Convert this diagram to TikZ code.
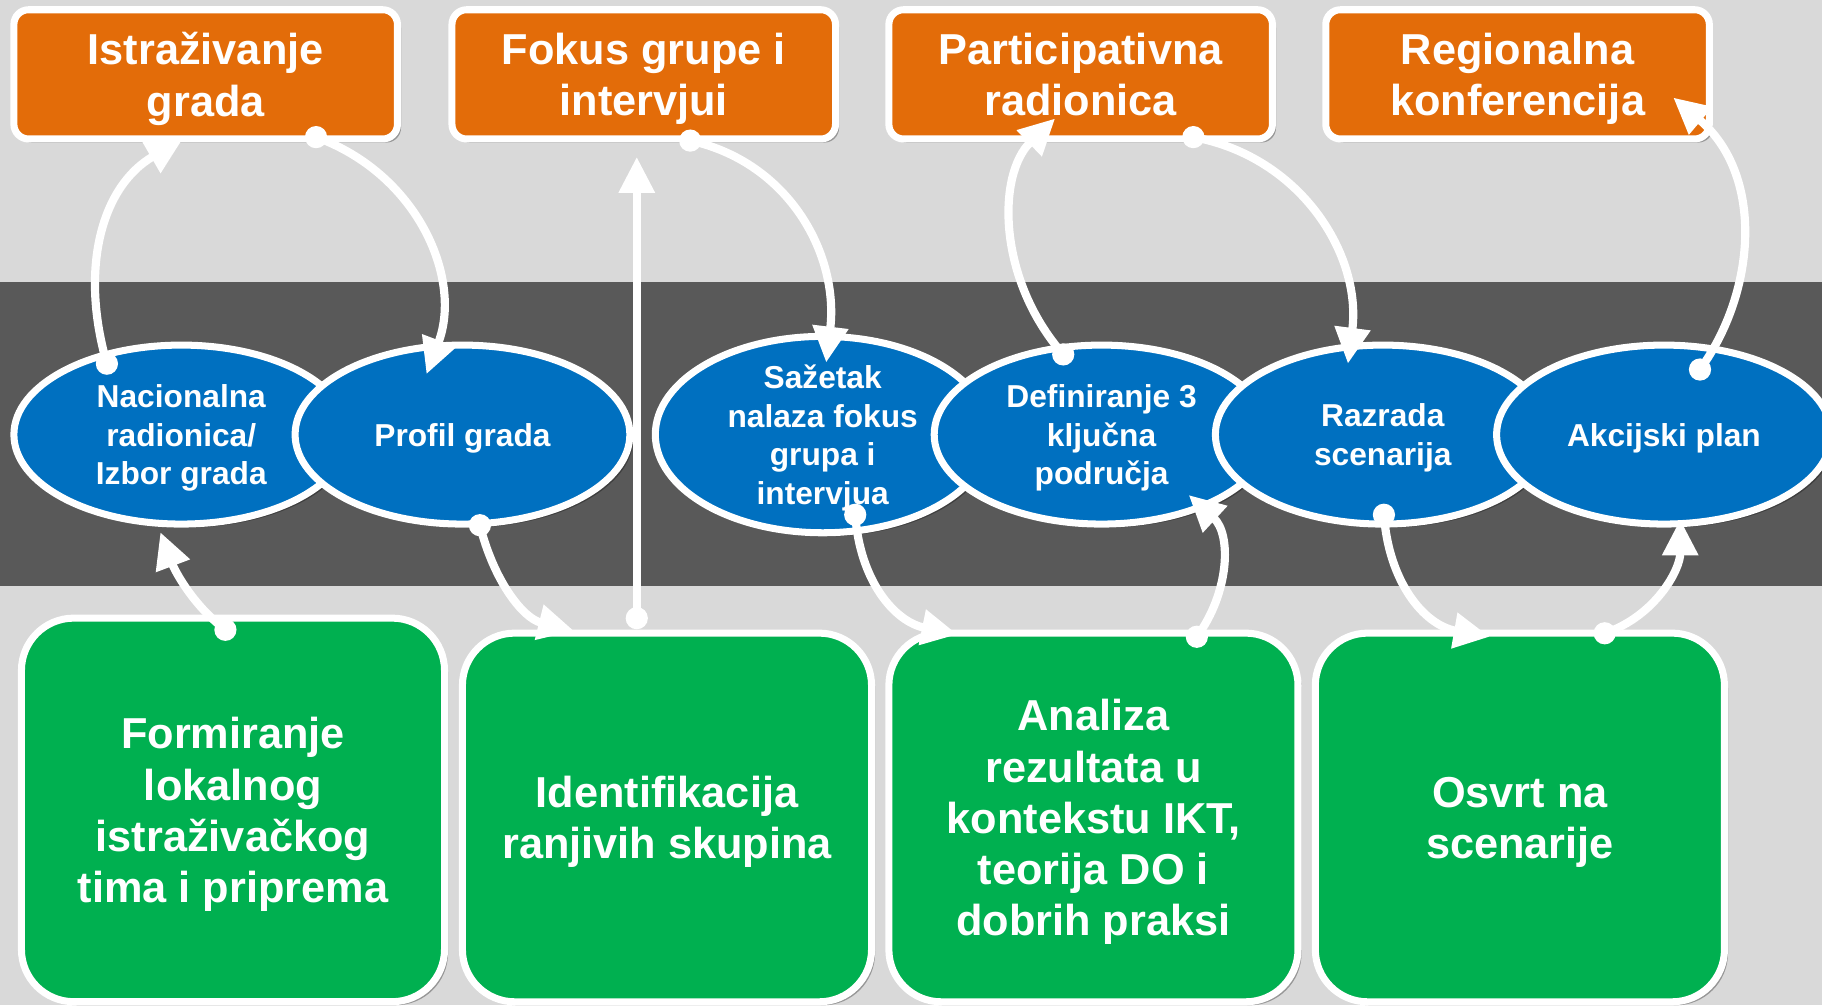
\documentclass[tikz,border=0pt]{standalone}
\usepackage{fontspec}
\setmainfont{Liberation Sans}
\usetikzlibrary{shapes.geometric,arrows.meta,shadows}
\definecolor{bglight}{HTML}{D9D9D9}
\definecolor{bandgray}{HTML}{595959}
\definecolor{org}{HTML}{E36C09}
\definecolor{blu}{HTML}{0070C0}
\definecolor{grn}{HTML}{00B050}
\begin{document}
\begin{tikzpicture}[x=0.025cm,y=-0.025cm,
  shadowed/.style={drop shadow={shadow xshift=2.2pt,shadow yshift=-2.2pt,opacity=0.3,fill=black}},
  topbox/.style={rectangle, rounded corners=9pt, fill=org, draw=white, line width=4.3pt,
    minimum width=8.25cm, minimum height=2.78cm, text=white, text depth=0pt,
    font=\bfseries\fontsize{26.5pt}{31.3pt}\selectfont, align=center, inner sep=0pt, shadowed},
  ell/.style={ellipse, fill=blu, draw=white, line width=4.3pt,
    minimum width=7.2cm, minimum height=3.85cm, text=white, text depth=0pt,
    font=\bfseries\fontsize{19.4pt}{23.5pt}\selectfont, align=center, inner sep=0pt, shadowed},
  grnbox/.style={rectangle, rounded corners=32pt, fill=grn, draw=white, line width=4.3pt,
    text=white, text depth=0pt, font=\bfseries\fontsize{26.5pt}{31.3pt}\selectfont, align=center,
    inner sep=0pt, shadowed},
  flow/.style={draw=white, line width=5pt, -{Triangle[length=22pt,width=21pt]},
    preaction={draw=black, opacity=0.18, transform canvas={xshift=1.5pt,yshift=-1.5pt}}},
  dotend/.style={fill=white}
]
\useasboundingbox (0,0) rectangle (1568,865);
\fill[bglight] (0,0) rectangle (1568,865);
\fill[bandgray] (0,243) rectangle (1568,504);

% top boxes
\node[topbox] (t1) at (177,64) {Istraživanje\\grada};
\node[topbox] (t2) at (554,64) {Fokus grupe i\\intervjui};
\node[topbox] (t3) at (930,64) {Participativna\\radionica};
\node[topbox] (t4) at (1306,64) {Regionalna\\konferencija};

% green boxes
\node[grnbox, minimum width=9.1cm, minimum height=8.25cm] (g1) at (200.5,697)
  {Formiranje\\lokalnog\\istraživačkog\\tima i priprema};
\node[grnbox, minimum width=8.8cm, minimum height=7.93cm] (g2) at (574,703.5)
  {Identifikacija\\ranjivih skupina};
\node[grnbox, minimum width=8.8cm, minimum height=7.93cm] (g3) at (941,703.5)
  {Analiza\\rezultata u\\kontekstu IKT,\\teorija DO i\\dobrih praksi};
\node[grnbox, minimum width=8.8cm, minimum height=7.93cm] (g4) at (1308,703.5)
  {Osvrt na\\scenarije};

% ellipses
\node[ell] (e1) at (156,374) {Nacionalna\\radionica/\\Izbor grada};
\node[ell] (e2) at (398,374) {Profil grada};
\node[ell] (e3) at (708,374) {Sažetak\\nalaza fokus\\grupa i\\intervjua};
\node[ell] (e4) at (948,374) {Definiranje 3\\ključna\\područja};
\node[ell] (e5) at (1190,374) {Razrada\\scenarija};
\node[ell] (e6) at (1432,374) {Akcijski plan};

% connector end points
\coordinate (a1s) at (92,313);   \coordinate (a1e) at (157,120);
\coordinate (a2s) at (272,118);  \coordinate (a2e) at (367,322);
\coordinate (a3s) at (413,452);  \coordinate (a3e) at (494,543);
\coordinate (a4s) at (548,532);  \coordinate (a4e) at (548,135);
\coordinate (a5s) at (594,121);  \coordinate (a5e) at (711,312);
\coordinate (a6s) at (736,443);  \coordinate (a6e) at (824,546);
\coordinate (a7s) at (1030,548); \coordinate (a7e) at (1023,426);
\coordinate (a8s) at (915,305);  \coordinate (a8e) at (908,102);
\coordinate (a9s) at (1027,118); \coordinate (a9e) at (1160,313);
\coordinate (a10s) at (1191,443);\coordinate (a10e) at (1282,548);
\coordinate (a11s) at (1381,545);\coordinate (a11e) at (1446,447);
\coordinate (a12s) at (1463,318);\coordinate (a12e) at (1440,84);
\coordinate (a13s) at (194,542); \coordinate (a13e) at (138,458);

% connectors
\draw[flow] (a1s) .. controls (68,230) and (88,160) .. (a1e);
\draw[flow] (a2s) .. controls (360,150) and (398,240) .. (a2e);
\draw[flow] (a3s) .. controls (425,500) and (450,532) .. (a3e);
\draw[flow] (a4s) -- (a4e);
\draw[flow] (a5s) .. controls (680,140) and (722,220) .. (a5e);
\draw[flow] (a6s) .. controls (740,500) and (770,535) .. (a6e);
\draw[flow] (a7s) .. controls (1058,510) and (1060,460) .. (a7e);
\draw[flow] (a8s) .. controls (858,240) and (858,150) .. (a8e);
\draw[flow] (a9s) .. controls (1120,135) and (1172,220) .. (a9e);
\draw[flow] (a10s) .. controls (1195,500) and (1225,538) .. (a10e);
\draw[flow] (a11s) .. controls (1425,530) and (1446,490) .. (a11e);
\draw[flow] (a12s) .. controls (1512,250) and (1518,150) .. (a12e);
\draw[flow] (a13s) .. controls (165,520) and (150,490) .. (a13e);

% start dots
\foreach \p in {a1s,a2s,a3s,a4s,a5s,a6s,a7s,a8s,a9s,a10s,a11s,a12s,a13s}
  \fill[dotend] (\p) circle (6.8pt);
\end{tikzpicture}
\end{document}
